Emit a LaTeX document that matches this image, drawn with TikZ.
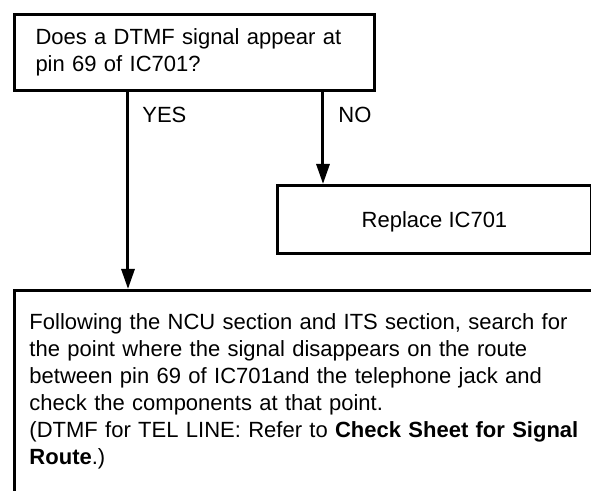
\documentclass[tikz,border=0pt]{standalone}
\usepackage{fontspec}
\setmainfont{Liberation Sans}
\usetikzlibrary{arrows.meta}

\begin{document}
\begin{tikzpicture}[x=0.5pt,y=-0.5pt,>={Triangle[length=10pt,width=6.5pt]},
  box/.style={draw,line width=1.5pt,inner sep=0pt,font=\fontsize{11}{13.5}\selectfont},
  flow/.style={->,line width=1.5pt},
  lbl/.style={anchor=base west,inner sep=0pt,font=\fontsize{11}{13.5}\selectfont}]
  % page frame (the bottom box runs off the page)
  \clip (0,0) rectangle (591,491);
  % question (top)
  \node[box,anchor=north west,minimum width=180pt,minimum height=38pt,
        text width=159pt,inner xsep=10.5pt,align=left] (ask) at (13,13)
    {Does a DTMF signal appear at\\pin 69 of IC701?};
  % NO branch
  \node[box,anchor=north west,minimum width=157pt,minimum height=34pt,
        text depth=0pt,align=center] (repl) at (276,184) {Replace IC701};
  % YES branch
  \node[box,anchor=north west,text width=300pt,inner xsep=7.5pt,inner ysep=11.6pt,
        align=left] (route) at (13,289)
    {Following the NCU section and ITS section, search for\\
     the point where the signal disappears on the route\\
     between pin 69 of IC701and the telephone jack and\\
     check the components at that point.\\
     (DTMF for TEL LINE: Refer to \textbf{Check Sheet for Signal}\\
     \textbf{Route}.)\\[30pt]\mbox{}};
  % where the arrows leave the question box
  \coordinate (yes) at (128,89);
  \coordinate (no)  at (323,89);
  \draw[flow] (ask.south -| yes) -- (route.north -| yes);
  \draw[flow] (ask.south -| no) -- (repl.north -| no);
  % branch labels
  \node[lbl] (yeslbl) at (142,123) {YES};
  \node[lbl] (nolbl)  at (338,123) {NO};
\end{tikzpicture}
\end{document}
